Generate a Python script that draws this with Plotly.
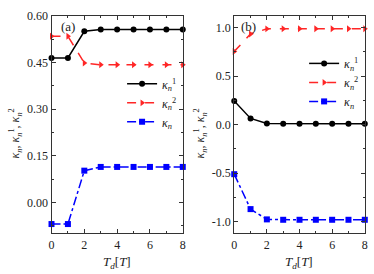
import plotly.graph_objects as go

T = [0, 1, 2, 3, 4, 5, 6, 7, 8]
# panel (a)
a_k1 = [0.465, 0.465, 0.551, 0.557, 0.557, 0.557, 0.557, 0.557, 0.557]
a_k2 = [0.535, 0.535, 0.449, 0.443, 0.443, 0.443, 0.443, 0.443, 0.443]
a_k = [-0.070, -0.070, 0.102, 0.114, 0.114, 0.114, 0.114, 0.114, 0.114]
# panel (b)
b_k1 = [0.245, 0.065, 0.012, 0.010, 0.010, 0.010, 0.010, 0.010, 0.010]
b_k2 = [0.755, 0.935, 0.988, 0.990, 0.990, 0.990, 0.990, 0.990, 0.990]
b_k = [-0.510, -0.870, -0.976, -0.980, -0.980, -0.980, -0.980, -0.980, -0.980]

a_yticks = [0.0, 0.15, 0.30, 0.45, 0.60]
a_ylabels = ["0.00", "0.15", "0.30", "0.45", "0.60"]
b_yticks = [-1.0, -0.5, 0.0, 0.5, 1.0]
b_ylabels = ["-1.0", "-0.5", "0.0", "0.5", "1.0"]
xticks = [0, 2, 4, 6, 8]

names = ["<i>κ</i><sub><i>n</i></sub><sup>1</sup>",
         "<i>κ</i><sub><i>n</i></sub><sup>2</sup>",
         "<i>κ</i><sub><i>n</i></sub>"]
styles = [
    dict(color="black", dash="solid", symbol="circle"),
    dict(color="#ff2626", dash="dash", symbol="triangle-right"),
    dict(color="#0000ff", dash="dashdot", symbol="square"),
]

FONT = "Liberation Serif, Times New Roman, serif"
W, H = 374, 274


def px(xr):
    return xr / W


def py(yr):
    return (H - yr) / H


fig = go.Figure()

for data, xa, ya, leg in [
        ((a_k1, a_k2, a_k), "x", "y", "legend"),
        ((b_k1, b_k2, b_k), "x2", "y2", "legend2")]:
    for ys, nm, st in zip(data, names, styles):
        fig.add_trace(go.Scatter(
            x=T, y=ys, name=nm, mode="lines+markers",
            xaxis=xa, yaxis=ya, legend=leg, cliponaxis=False,
            line=dict(color=st["color"], dash=st["dash"], width=1.5),
            marker=dict(symbol=st["symbol"], size=6, color=st["color"]),
        ))

axis_common = dict(
    showline=True, linecolor="#333", linewidth=1.2, mirror="ticks",
    ticks="inside", ticklen=4, tickwidth=1, tickcolor="#333",
    showgrid=False, zeroline=False,
    tickfont=dict(family=FONT, size=12, color="#222"),
)

fig.update_layout(
    width=W, height=H,
    margin=dict(l=0, r=0, t=0, b=0),
    paper_bgcolor="white", plot_bgcolor="white",
    font=dict(family=FONT, size=12, color="#222"),
    xaxis=dict(domain=[px(49.3), px(182.7)], range=[0, 8], tickvals=xticks,
               minor=dict(dtick=1, ticks="inside", ticklen=2, tickcolor="#333"),
               anchor="y", **axis_common),
    yaxis=dict(domain=[py(232.3), py(9.3)], range=[-0.1, 0.6], tickvals=a_yticks,
               ticktext=a_ylabels,
               minor=dict(dtick=0.075, tick0=0, ticks="inside", ticklen=2, tickcolor="#333"),
               anchor="x", **axis_common),
    xaxis2=dict(domain=[px(235), px(367.7)], range=[0, 8], tickvals=xticks,
                minor=dict(dtick=1, ticks="inside", ticklen=2, tickcolor="#333"),
                anchor="y2", **axis_common),
    yaxis2=dict(domain=[py(232.3), py(9.3)], range=[-1.12, 1.12], tickvals=b_yticks,
                ticktext=b_ylabels,
                minor=dict(dtick=0.25, tick0=0, ticks="inside", ticklen=2, tickcolor="#333"),
                anchor="x2", **axis_common),
    legend=dict(x=px(182), y=py(64), xanchor="right", yanchor="top",
                bgcolor="rgba(0,0,0,0)", font=dict(family=FONT, size=12),
                tracegroupgap=0, itemwidth=30),
    legend2=dict(x=px(367), y=py(43), xanchor="right", yanchor="top",
                 bgcolor="rgba(0,0,0,0)", font=dict(family=FONT, size=12),
                 tracegroupgap=0, itemwidth=30),
)

ytitle = "<i>κ</i><sub><i>n</i></sub>, <i>κ</i><sub><i>n</i></sub><sup>1</sup>, <i>κ</i><sub><i>n</i></sub><sup>2</sup>"
xtitle = "<i>T</i><sub><i>d</i></sub>[<i>T</i>]"
ann = []
for xc, yx, lab, lx in [(116, 13, "(a)", 66), (301, 201, "(b)", 250)]:
    ann.append(dict(text=xtitle, x=px(xc), y=py(262), xref="paper", yref="paper",
                    xanchor="center", yanchor="middle",
                    showarrow=False, font=dict(family=FONT, size=13)))
    ann.append(dict(text=ytitle, x=px(yx), y=py(130), xref="paper", yref="paper",
                    xanchor="center", yanchor="middle",
                    showarrow=False, textangle=-90, font=dict(family=FONT, size=12)))
    ann.append(dict(text=lab, x=px(lx), y=py(20), xref="paper", yref="paper",
                    xanchor="center", yanchor="middle",
                    showarrow=False, font=dict(family=FONT, size=13)))
fig.update_layout(annotations=ann)

fig.write_html("out.html", config={"displayModeBar": False},
               post_script="document.body.style.margin='0';")
